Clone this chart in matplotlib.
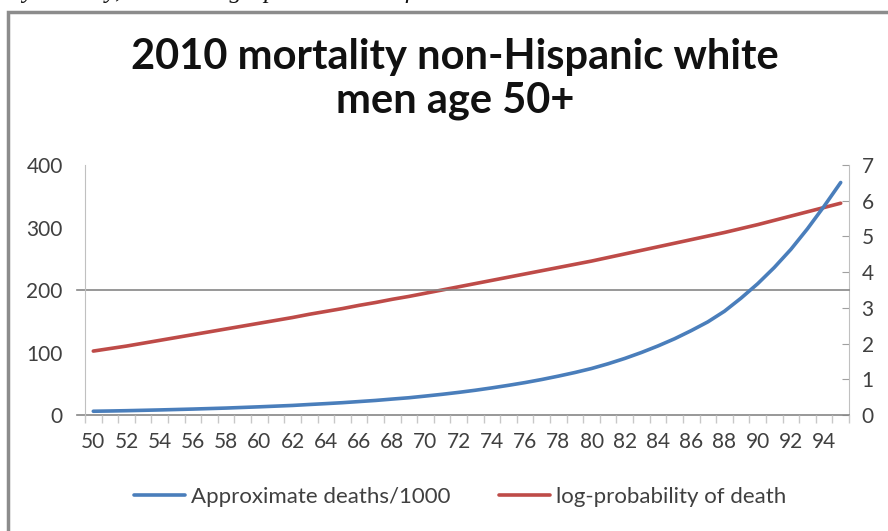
import matplotlib.pyplot as plt
from matplotlib.patches import Rectangle
from matplotlib.ticker import FixedLocator

ages = list(range(50, 96))
deaths_per_1000 = [6.0, 6.4, 6.9, 7.5, 8.1, 8.8, 9.5, 10.3, 11.1, 12.1,
                   13.1, 14.2, 15.3, 16.8, 18.2, 19.7, 21.5, 23.3, 25.5, 27.6,
                   30.3, 33.1, 36.2, 39.6, 43.4, 47.5, 51.9, 56.8, 62.2, 68.0,
                   74.4, 82.0, 90.5, 100.0, 110.5, 122.0, 135.0, 149.0, 166.0, 187.0,
                   210.0, 236.0, 265.0, 298.0, 334.0, 372.0]
log_prob = [1.79, 1.86, 1.93, 2.01, 2.09, 2.17, 2.25, 2.33, 2.41, 2.49,
            2.57, 2.65, 2.73, 2.82, 2.90, 2.98, 3.07, 3.15, 3.24, 3.32,
            3.41, 3.50, 3.59, 3.68, 3.77, 3.86, 3.95, 4.04, 4.13, 4.22,
            4.31, 4.41, 4.51, 4.61, 4.71, 4.81, 4.91, 5.01, 5.11, 5.22,
            5.33, 5.45, 5.57, 5.69, 5.81, 5.93]
left_ticks = [0, 100, 200, 300, 400]
right_ticks = [0, 1, 2, 3, 4, 5, 6, 7]
x_labels = list(range(50, 95, 2))

W, H = 888, 531
plt.rcParams['font.family'] = ['Lato', 'DejaVu Sans']
fig = plt.figure(figsize=(W / 100, H / 100), dpi=100)

# frame of the screenshot, cut by the page edges
fig.patches.append(Rectangle((8 / W, -0.1), 1.2, 1.1 - 12 / H, transform=fig.transFigure,
                             fill=False, edgecolor='#8c8c8c', lw=2.5))
# the line of page text above the chart, mostly cut off
fig.text(22 / W, 1 + 2 / H, "y the way, here's the graph in another form.", family='Liberation Serif',
         style='italic', fontsize=18, va='baseline', ha='left', color='#111111')

ax = fig.add_axes([85 / W, 1 - 415 / H, 764 / W, 250 / H])
grey = '#868686'
ax.plot(ages, deaths_per_1000, color='#4a7ebb', lw=2.6, label='Approximate deaths/1000', solid_capstyle='round')
ax.set_xlim(49.5, 95.5)
ax.set_ylim(0, 400)
ax.set_yticks(left_ticks)
ax.tick_params(axis='y', length=0, pad=16, labelsize=15, labelcolor='#404040')
ax.set_xticks(x_labels)
ax.xaxis.set_minor_locator(FixedLocator([a - 0.5 for a in ages] + [95.5]))
ax.tick_params(axis='x', which='major', length=0, pad=12, labelsize=15, labelcolor='#404040')
ax.tick_params(axis='x', which='minor', length=6, width=1, color='#c8c8c8', direction='out')
ax.axhline(200, xmin=-0.011, xmax=1, color=grey, lw=1.2, clip_on=False, zorder=1)
ax.axhline(0, xmin=-0.011, xmax=1, color=grey, lw=1.2, clip_on=False, zorder=1)
ax.spines['top'].set_visible(False)
ax.spines['bottom'].set_visible(False)
ax.spines['right'].set_visible(False)
ax.spines['left'].set_color('#c0c0c0')

ax2 = ax.twinx()
ax2.plot(ages, log_prob, color='#be4b48', lw=2.6, label='log-probability of death', solid_capstyle='round')
ax2.set_ylim(0, 7)
ax2.set_yticks(right_ticks)
ax2.tick_params(axis='y', length=5, direction='in', color='#a0a0a0', pad=9, labelsize=15, labelcolor='#404040')
for s in ['top', 'bottom', 'left']:
    ax2.spines[s].set_visible(False)
ax2.spines['right'].set_color('#c0c0c0')
ax.set_zorder(ax2.get_zorder() + 1)
ax.patch.set_visible(False)

fig.text(455 / W, 1 - 57 / H, '2010 mortality non-Hispanic white', fontsize=30, fontweight='bold',
         ha='center', va='center', color='#111111')
fig.text(455 / W, 1 - 101 / H, 'men age 50+', fontsize=30, fontweight='bold',
         ha='center', va='center', color='#111111')

h1, l1 = ax.get_legend_handles_labels()
h2, l2 = ax2.get_legend_handles_labels()
fig.legend(h1 + h2, l1 + l2, loc='center', bbox_to_anchor=(460 / W, 1 - 497 / H), ncol=2, frameon=False,
           fontsize=16, handlelength=2.3, handletextpad=0.25, columnspacing=2.2, labelcolor='#404040')

fig.savefig('out.png', dpi=100)
